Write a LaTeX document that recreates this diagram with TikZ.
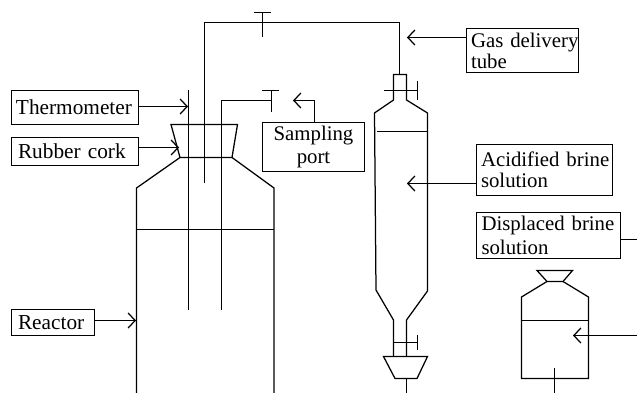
\documentclass[tikz,border=0pt]{standalone}
\usepackage{fontspec}
\setmainfont{Liberation Serif}
\usetikzlibrary{arrows.meta}
\tikzset{
  wire/.style={draw=black, line width=1.25pt, line join=miter},
  pointer/.style={wire, -{Straight Barb[length=7pt,width=15pt,line width=1.25pt]}},
  labelbox/.style={draw=black, line width=1.25pt, inner sep=0pt, outer sep=0pt, font=\fontsize{20.8}{21}\selectfont, text=black, align=left, anchor=north west},
  bigbox/.style={labelbox, font=\fontsize{21.3}{21}\selectfont}
}
\begin{document}
\begin{tikzpicture}[x=1pt,y=-1pt]
\useasboundingbox (0,0) rectangle (637,393);
% labels
\node[bigbox, minimum width=127pt, minimum height=34pt, text width=127pt] (thermo) at (11.5,90.5) {\hspace*{4.5pt}Thermometer};
\node[bigbox, minimum width=127pt, minimum height=28pt, text width=127pt] (cork) at (11.5,137.5) {\hspace*{6.5pt}Rubber cork};
\node[bigbox, minimum width=83pt, minimum height=26pt, text width=83pt] (reactor) at (11.5,309.5) {\hspace*{6.5pt}Reactor};
\node[labelbox, minimum width=102pt, minimum height=49pt, align=center, font=\fontsize{20.8}{22.5}\selectfont] (sampling) at (262.5,122.5) {Sampling\\port};
\node[labelbox, minimum width=112pt, minimum height=44pt, text width=112pt] (gas) at (466.5,28.5) {\hspace*{4.5pt}\mbox{Gas delivery}\\\hspace*{4.5pt}tube};
\node[labelbox, minimum width=136pt, minimum height=51pt, text width=136pt] (acid) at (476.5,144.5) {\hspace*{4.5pt}Acidified brine\\\hspace*{4.5pt}solution};
\node[labelbox, minimum width=144pt, minimum height=46pt, text width=144pt, font=\fontsize{20.8}{23.5}\selectfont] (displaced) at (476.5,212.5) {\hspace*{5pt}Displaced brine\\\hspace*{5pt}solution};
% pointer ends
\coordinate (thermoEnd) at (188,106.5);
\coordinate (corkEnd) at (179,147.5);
\coordinate (reactorEnd) at (136,320.5);
\coordinate (sampEnd) at (293,100.5);
\coordinate (sampBend) at (314.5,100.5);
\coordinate (gasEnd) at (407,37.5);
\coordinate (acidEnd) at (407,183.5);
\coordinate (dispEnd) at (573,335.5);
\coordinate (edgeA) at (637,239.5);
\coordinate (edgeB) at (637,335.5);
% pointers
\draw[pointer] (thermo.east |- thermoEnd) -- (thermoEnd);
\draw[pointer] (cork.east |- corkEnd) -- (corkEnd);
\draw[pointer] (reactor.east |- reactorEnd) -- (reactorEnd);
\draw[pointer] (sampling.north -| sampBend) -- (sampBend) -- (sampEnd);
\draw[pointer] (gas.west |- gasEnd) -- (gasEnd);
\draw[pointer] (acid.west |- acidEnd) -- (acidEnd);
\draw[wire] (displaced.east |- edgeA) -- (edgeA);
\draw[pointer] (edgeB) -- (dispEnd);
% reactor
\draw[wire] (136.5,393) -- (136.5,188) -- (180,157.5) -- (232,157.5) -- (274,188) -- (274,393);
\draw[wire] (136.5,229.5) -- (274,229.5);
\draw[wire] (180,157.5) -- (171,124.5) -- (237.5,124.5) -- (232,157.5);
\draw[wire] (188.5,90) -- (188.5,310);
\draw[wire] (221.5,310) -- (221.5,100.5) -- (271.5,100.5);
\draw[wire] (271.5,90) -- (271.5,112);
\draw[wire] (262,90.5) -- (279,90.5);
% delivery tube
\draw[wire] (204.5,183) -- (204.5,22.5) -- (399.5,22.5) -- (399.5,74.5);
\draw[wire] (262.5,12) -- (262.5,37);
\draw[wire] (254,12.5) -- (271,12.5);
% acid vessel
\draw[wire] (393.5,356) -- (393.5,320) -- (376,290) -- (374.5,113) -- (393.5,100) -- (393.5,74.5) -- (406.5,74.5) -- (406.5,100) -- (427.5,113) -- (427.5,291) -- (406.5,320) -- (406.5,356);
\draw[wire] (377,131.5) -- (427.5,131.5);
\draw[wire] (383.5,90.5) -- (417.5,90.5);
\draw[wire] (417.5,81) -- (417.5,100);
\draw[wire] (394,342.5) -- (417.5,342.5);
\draw[wire] (417.5,335) -- (417.5,350);
\draw[wire] (383.5,356.5) -- (427.5,356.5) -- (417,378.5) -- (395,378.5) -- cycle;
\draw[wire] (406.5,378) -- (406.5,393);
% receiver
\draw[wire] (537,270.5) -- (572.5,270.5) -- (563,281.5) -- (547,281.5) -- cycle;
\draw[wire] (547,281.5) -- (521.5,297) -- (521.5,378.5) -- (588.5,378.5) -- (588.5,297) -- (563,281.5);
\draw[wire] (521.5,320.5) -- (588.5,320.5);
\draw[wire] (554.5,368) -- (554.5,393);
\end{tikzpicture}
\end{document}
